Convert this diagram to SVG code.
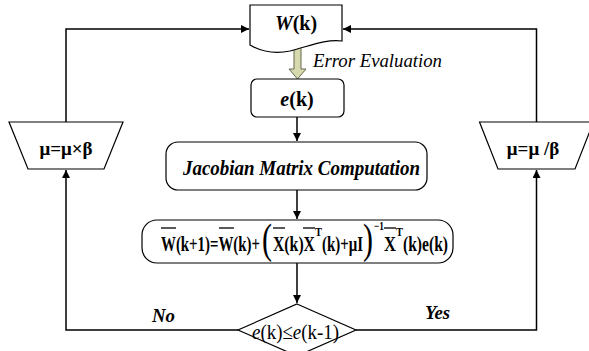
<svg xmlns="http://www.w3.org/2000/svg" width="589" height="351" viewBox="0 0 589 351" font-family="'Liberation Serif', 'DejaVu Serif', serif">
<defs>
<marker id="ah" viewBox="0 0 10 10" refX="10" refY="5" markerWidth="8" markerHeight="8" markerUnits="userSpaceOnUse" orient="auto">
<path d="M0,0 L10,5 L0,10 Z" fill="#000"/>
</marker>
</defs>
<style>
.box{fill:#fff;stroke:#000;stroke-width:1.2}
.con{fill:none;stroke:#000;stroke-width:1.5}
text{font-family:'Liberation Serif','DejaVu Serif',serif;fill:#000}
.b{font-weight:bold}
.i{font-style:italic}
.bar{stroke:#000;stroke-width:1.3}
</style>
<rect width="589" height="351" fill="#fff"/>
<g id="connectors">
<path class="con" d="M66,122 V29 H249" marker-end="url(#ah)"/>
<path class="con" d="M536.5,122 V29 H343" marker-end="url(#ah)"/>
<path class="con" d="M297,117 V141" marker-end="url(#ah)"/>
<path class="con" d="M297,190 V219" marker-end="url(#ah)"/>
<path class="con" d="M297,263 V303" marker-end="url(#ah)"/>
<path class="con" d="M238,330 H66 V170" marker-end="url(#ah)"/>
<path class="con" d="M356,330 H536.5 V170" marker-end="url(#ah)"/>
<polygon points="294,47 301,47 301,69 306,69 297.5,79 289,69 294,69" fill="#d6d9ad" stroke="#66664d" stroke-width="1"/>
<text class="i" x="313" y="67" font-size="19" textLength="129" lengthAdjust="spacingAndGlyphs">Error Evaluation</text>
<text class="b i" x="152" y="322" font-size="19" textLength="23" lengthAdjust="spacingAndGlyphs">No</text>
<text class="b i" x="425" y="319" font-size="19" textLength="25" lengthAdjust="spacingAndGlyphs">Yes</text>
</g>
<g id="node-w">
<path class="box" d="M250,45 V5 H342 V41 C325,39 310,46 290,51 C275,54 262,52 250,45 Z"/>
<text class="b" x="296" y="30" font-size="20" text-anchor="middle"><tspan font-style="italic">W</tspan>(k)</text>
</g>
<g id="node-e">
<rect class="box" x="251" y="79" width="93" height="38" rx="6"/>
<text class="b" x="297" y="106" font-size="20" text-anchor="middle"><tspan font-style="italic">e</tspan>(k)</text>
</g>
<g id="node-jacobian">
<rect class="box" x="166" y="142" width="261" height="48" rx="12"/>
<text class="b i" x="183" y="175" font-size="22" textLength="237" lengthAdjust="spacingAndGlyphs">Jacobian Matrix Computation</text>
</g>
<g id="node-update">
<rect class="box" x="142" y="220" width="311" height="43" rx="15"/>
<text class="b" y="251" font-size="21"><tspan x="161" textLength="99" lengthAdjust="spacingAndGlyphs">W(k+1)=W(k)+</tspan><tspan x="262" y="253" font-size="42" font-weight="normal" textLength="10" lengthAdjust="spacingAndGlyphs">(</tspan><tspan x="273" y="251" textLength="42" lengthAdjust="spacingAndGlyphs">X(k)X</tspan><tspan x="315" y="236" font-size="12" textLength="7" lengthAdjust="spacingAndGlyphs">T</tspan><tspan x="322" y="251" textLength="41" lengthAdjust="spacingAndGlyphs">(k)+μI</tspan><tspan x="363" y="253" font-size="42" font-weight="normal" textLength="10" lengthAdjust="spacingAndGlyphs">)</tspan><tspan x="374" y="230" font-size="12" textLength="10" lengthAdjust="spacingAndGlyphs">−1</tspan><tspan x="384" y="251" textLength="12" lengthAdjust="spacingAndGlyphs">X</tspan><tspan x="396" y="236" font-size="12" textLength="7" lengthAdjust="spacingAndGlyphs">T</tspan><tspan x="403" y="251" textLength="45" lengthAdjust="spacingAndGlyphs">(k)e(k)</tspan></text>
<line class="bar" x1="161" y1="228" x2="176" y2="228"/>
<line class="bar" x1="219" y1="228" x2="234" y2="228"/>
<line class="bar" x1="273" y1="228" x2="285" y2="228"/>
<line class="bar" x1="303" y1="228" x2="315" y2="228"/>
<line class="bar" x1="384" y1="228" x2="396" y2="228"/>
</g>
<g id="node-decision">
<path class="box" d="M297,304 L356,330 L297,356 L238,330 Z"/>
<text x="252" y="339" font-size="22" textLength="87" lengthAdjust="spacingAndGlyphs"><tspan font-style="italic">e</tspan>(k)≤<tspan font-style="italic">e</tspan>(k-1)</text>
</g>
<g id="node-mu-mul">
<path class="box" d="M9,122 H123 L104,169 H28 Z"/>
<text class="b" x="66" y="155" font-size="19" text-anchor="middle">μ=μ×β</text>
</g>
<g id="node-mu-div">
<path class="box" d="M479.5,122 H593.5 L575,169 H498 Z"/>
<text class="b" x="533" y="155" font-size="19" text-anchor="middle">μ=μ /β</text>
</g>
</svg>
